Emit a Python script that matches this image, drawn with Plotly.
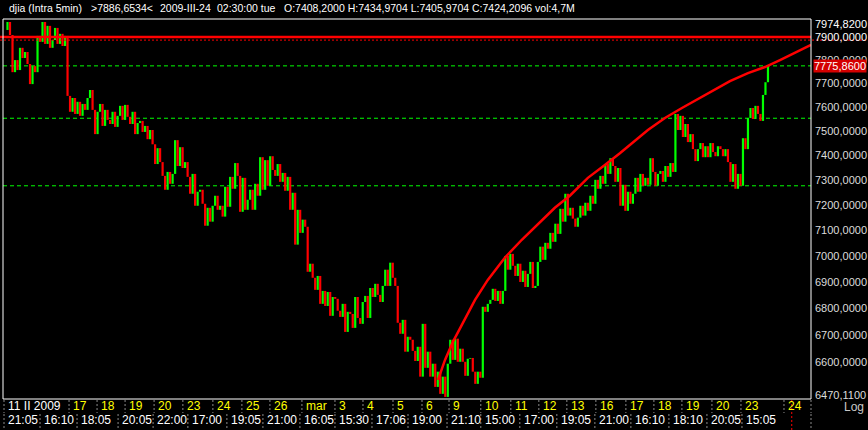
import math
import plotly.graph_objects as go

# ---------------- data ----------------
title_parts = ["djia (Intra 5min)", ">7886,6534<", "2009-III-24", "02:30:00 tue",
               "O:7408,2000 H:7434,9704 L:7405,9704 C:7424,2096 vol:4,7M"]

# 5-minute closes (sampled), DJIA 11 Feb 2009 - 23 Mar 2009
closes = [
    7931, 7966, 7909, 7748, 7800, 7757, 7853, 7809, 7835, 7783, 7697, 7774, 7748, 7905, 7879, 7966, 7870, 7949, 7853, 7887,
    7940, 7870, 7914, 7861, 7905, 7647, 7580, 7638, 7571, 7622, 7563, 7613, 7588, 7638, 7672, 7588, 7487, 7580, 7613, 7521,
    7588, 7546, 7529, 7580, 7517, 7563, 7605, 7546, 7609, 7559, 7529, 7580, 7487, 7533, 7542, 7496, 7521, 7466, 7504, 7445,
    7364, 7429, 7372, 7316, 7260, 7332, 7284, 7324, 7462, 7356, 7433, 7348, 7372, 7312, 7244, 7324, 7196, 7252, 7260, 7204,
    7117, 7188, 7133, 7196, 7236, 7180, 7196, 7153, 7272, 7192, 7312, 7264, 7368, 7316, 7172, 7308, 7180, 7220, 7260, 7180,
    7284, 7236, 7392, 7260, 7380, 7276, 7396, 7340, 7316, 7364, 7292, 7328, 7256, 7312, 7180, 7248, 7043, 7180, 7089, 7141,
    7113, 6938, 6969, 6915, 6869, 6922, 6816, 6865, 6808, 6861, 6771, 6842, 6835, 6790, 6767, 6816, 6711, 6786, 6778, 6726,
    6842, 6763, 6741, 6823, 6846, 6763, 6876, 6842, 6892, 6850, 6823, 6884, 6946, 6884, 6973, 6915, 6884, 6745, 6704, 6756,
    6638, 6693, 6682, 6641, 6604, 6656, 6547, 6741, 6579, 6638, 6547, 6594, 6510, 6565, 6485, 6547, 6474, 6594, 6682, 6608,
    6686, 6601, 6649, 6601, 6550, 6612, 6615, 6565, 6521, 6565, 6543, 6805, 6786, 6816, 6831, 6873, 6827, 6865, 6816, 6865,
    6999, 6946, 7007, 6961, 6922, 6969, 6899, 6942, 6880, 6930, 6976, 6876, 6884, 6976, 7035, 6984, 7050, 7027, 7089, 7054,
    7125, 7085, 7184, 7133, 7244, 7157, 7188, 7145, 7113, 7149, 7196, 7157, 7208, 7176, 7236, 7204, 7300, 7264, 7316, 7284,
    7364, 7324, 7388, 7356, 7292, 7348, 7196, 7280, 7176, 7252, 7204, 7244, 7308, 7252, 7324, 7276, 7308, 7280, 7388, 7332,
    7276, 7324, 7336, 7292, 7356, 7312, 7368, 7332, 7571, 7504, 7563, 7475, 7529, 7454, 7487, 7425, 7376, 7425, 7450, 7392,
    7437, 7392, 7450, 7413, 7396, 7437, 7425, 7396, 7425, 7372, 7292, 7364, 7264, 7324, 7276, 7470, 7425, 7554, 7596, 7550,
    7605, 7571, 7542, 7651, 7705, 7775.86,
]

# trend curve drawn on the chart (bar index, price)
trend_idx = [173.1, 175.9, 179.1, 181.9, 184.7, 187.9, 193.0, 199.8, 206.6, 213.8, 219.8, 225.8,
             233.0, 239.8, 245.8, 257.0, 263.8, 270.6, 277.8, 283.8, 289.8, 297.0, 303.8, 309.8, 315.7, 322.2]
trend_price = [6535, 6608, 6675, 6726, 6778, 6831, 6907, 6992, 7062, 7129, 7188, 7236,
               7308, 7360, 7408, 7504, 7554, 7596, 7638, 7672, 7710, 7744, 7770, 7800, 7831, 7866]

support_levels = [7775, 7553, 7276]     # green dashed
resistance_level = 7900                  # red solid
cursor_price = 7886.6534
cursor_idx = 314.5
last_price = 7775.86
y_min, y_max = 6470.11, 7974.82

y_tick_vals = [7974.82, 7900, 7800, 7700, 7600, 7500, 7400, 7300, 7200, 7100, 7000, 6900, 6800, 6700, 6600, 6470.11]

day_labels = ["11 II 2009", "17", "18", "19", "20", "23", "24", "25", "26", "mar", "3", "4", "5", "6",
              "9", "10", "11", "12", "13", "16", "17", "18", "19", "20", "23", "24"]
day_pos = [-0.4, 25.6, 36.8, 48.0, 59.6, 71.1, 83.1, 94.7, 105.9, 118.7, 131.9, 143.1, 155.1, 166.7,
           177.5, 190.2, 202.2, 213.4, 224.6, 236.2, 248.2, 259.4, 270.6, 282.6, 294.2, 311.4]
time_labels = ["21:05", "16:10", "18:05", "20:05", "22:00", "17:00", "19:05", "21:00", "16:05", "15:30",
               "17:06", "19:00", "21:10", "15:00", "17:00", "19:05", "21:00", "16:10", "18:10", "20:05", "15:05"]
time_pos = [-0.4, 14.0, 28.8, 45.2, 59.2, 73.1, 88.7, 103.1, 117.9, 131.9, 146.7, 161.1, 176.7,
            190.2, 205.8, 220.6, 235.8, 250.2, 265.4, 280.6, 294.6]
x_end = 322.2
x_start = -0.8

# ---------------- layout geometry ----------------
W, H = 868, 430
L, R, T, B = 3, 811, 19, 399          # plot frame in pixels
lo = math.log10(y_min) - 0.00024
hi = math.log10(y_max) + 0.00024


def pxx(px):
    return (px - L) / (R - L)


def pxy(py):
    return (B - py) / (B - T)


def idx_to_px(i):
    return L + (i - x_start) / (x_end - x_start) * (R - L)


def price_to_paper(p):
    return (math.log10(p) - lo) / (hi - lo)


FONT = "Liberation Sans, Arial, sans-serif"
FS = 11

# ---------------- bars ----------------
opens = [closes[0]] + closes[:-1]
gx, gy, rx, ry = [], [], [], []
for i, (o, c) in enumerate(zip(opens, closes)):
    if c >= o:
        gx += [i, i, None]
        gy += [o, c, None]
    else:
        rx += [i, i, None]
        ry += [o, c, None]

fig = go.Figure()
fig.add_trace(go.Scatter(x=gx, y=gy, mode="lines", line=dict(color="#00ff00", width=2.2),
                         hoverinfo="skip", showlegend=False))
fig.add_trace(go.Scatter(x=rx, y=ry, mode="lines", line=dict(color="#ff0000", width=2.2),
                         hoverinfo="skip", showlegend=False))
fig.add_trace(go.Scatter(x=trend_idx, y=trend_price, mode="lines", line=dict(color="#ff0000", width=2.5),
                         hoverinfo="skip", showlegend=False))

shapes = []
# green support lines
for lv in support_levels:
    shapes.append(dict(type="line", xref="paper", yref="paper", x0=0, x1=1,
                       y0=price_to_paper(lv), y1=price_to_paper(lv),
                       line=dict(color="#00ff00", width=1, dash="4px,3px"), layer="below"))
# red resistance line
shapes.append(dict(type="line", xref="paper", yref="paper", x0=pxx(0), x1=1,
                   y0=price_to_paper(resistance_level), y1=price_to_paper(resistance_level),
                   line=dict(color="#ff0000", width=2.5)))
# cursor cross-hair
shapes.append(dict(type="line", xref="paper", yref="paper", x0=pxx(0), x1=pxx(W),
                   y0=price_to_paper(cursor_price), y1=price_to_paper(cursor_price),
                   line=dict(color="#ff0000", width=1, dash="2px,2px")))
cx = pxx(idx_to_px(cursor_idx))
shapes.append(dict(type="line", xref="paper", yref="paper", x0=cx, x1=cx, y0=pxy(B + 1), y1=pxy(H),
                   line=dict(color="#ff0000", width=1, dash="2px,2px")))
# frame
shapes.append(dict(type="rect", xref="paper", yref="paper", x0=0, x1=1, y0=0, y1=1,
                   line=dict(color="#ffffff", width=1)))
# axis separators
for p in day_pos + [x_end]:
    xp = pxx(idx_to_px(p))
    shapes.append(dict(type="line", xref="paper", yref="paper", x0=xp, x1=xp, y0=pxy(400), y1=pxy(413),
                       line=dict(color="#8a8a8a", width=1, dash="2px,2px")))
for p in time_pos + [x_end]:
    xp = pxx(idx_to_px(p))
    shapes.append(dict(type="line", xref="paper", yref="paper", x0=xp, x1=xp, y0=pxy(414), y1=pxy(430),
                       line=dict(color="#8a8a8a", width=1, dash="2px,2px")))

ann = []
# header
head_x = [7, 89, 158, 215, 282]
for t, hx in zip(title_parts, head_x):
    ann.append(dict(text=t, xref="paper", yref="paper", x=pxx(hx), y=pxy(8), xanchor="left",
                    yanchor="middle", showarrow=False, font=dict(family=FONT, size=10.5, color="#ffffff")))
# y labels
for v in y_tick_vals:
    s = f"{v:.4f}".replace(".", ",")
    ys = 0
    if v == y_max:
        ys = -4
    if v == y_min:
        ys = 3
    col = "#ffffff" if v in (y_max, resistance_level) else "#dcdcdc"
    ann.append(dict(text=s, xref="paper", yref="paper", x=pxx(813), y=price_to_paper(v), yshift=ys,
                    xanchor="left", yanchor="middle", showarrow=False,
                    font=dict(family=FONT, size=FS, color=col)))
# last price tag
ann.append(dict(text=f"{last_price:.4f}".replace(".", ","), xref="paper", yref="paper", x=pxx(813),
                y=price_to_paper(last_price), xanchor="left", yanchor="middle", showarrow=False,
                bgcolor="#d40000", borderpad=0, font=dict(family=FONT, size=FS, color="#ffffff")))
# Log
ann.append(dict(text="Log", xref="paper", yref="paper", x=pxx(866), y=pxy(407), xanchor="right",
                yanchor="middle", showarrow=False, font=dict(family=FONT, size=FS + 1, color="#c8c8c8")))
# date labels
for i, (t, p) in enumerate(zip(day_labels, day_pos)):
    ann.append(dict(text=t, xref="paper", yref="paper", x=pxx(idx_to_px(p) + 2), y=pxy(406.5),
                    xanchor="left", yanchor="middle", showarrow=False,
                    font=dict(family=FONT, size=FS + 1, color="#ffffff" if i == 0 else "#ffff00")))
for t, p in zip(time_labels, time_pos):
    ann.append(dict(text=t, xref="paper", yref="paper", x=pxx(idx_to_px(p) + 2), y=pxy(420),
                    xanchor="left", yanchor="middle", showarrow=False,
                    font=dict(family=FONT, size=FS + 1, color="#ffffff")))

fig.update_layout(
    width=W, height=H,
    margin=dict(l=L, r=W - R, t=T, b=H - B, pad=0),
    paper_bgcolor="#000000", plot_bgcolor="#000000",
    showlegend=False,
    xaxis=dict(range=[x_start, x_end], showgrid=False, zeroline=False, showticklabels=False,
               showline=False, ticks=""),
    yaxis=dict(type="log", range=[lo, hi], showgrid=False, zeroline=False, showticklabels=False,
               showline=False, ticks=""),
    shapes=shapes,
    annotations=ann,
)

fig.write_html("out.html", config={"displayModeBar": False},
               post_script="document.body.style.margin='0';document.body.style.padding='0';"
                           "document.body.style.background='#000';")
